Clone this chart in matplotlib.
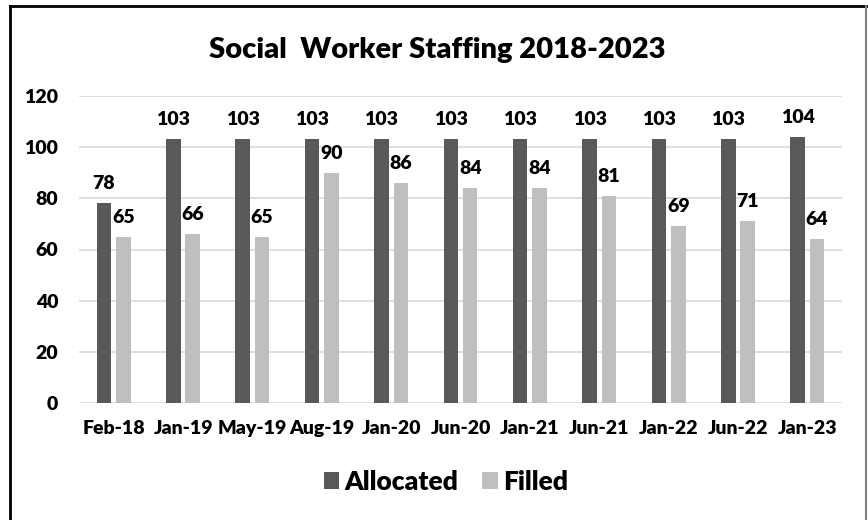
import matplotlib.pyplot as plt
import numpy as np
from matplotlib.lines import Line2D

plt.rcParams['font.family'] = ['Lato', 'DejaVu Sans']
plt.rcParams['font.weight'] = 'heavy'

dates = ["Feb-18", "Jan-19", "May-19", "Aug-19", "Jan-20", "Jun-20",
         "Jan-21", "Jun-21", "Jan-22", "Jun-22", "Jan-23"]
allocated = [78, 103, 103, 103, 103, 103, 103, 103, 103, 103, 104]
filled = [65, 66, 65, 90, 86, 84, 84, 81, 69, 71, 64]

fig = plt.figure(figsize=(8.68, 5.2), dpi=100)
ax = fig.add_axes([79 / 868, 1 - 403 / 520, (842 - 79) / 868, (403 - 96) / 520])

x = np.arange(len(dates))
w = 0.21
b1 = ax.bar(x - 0.14, allocated, w, color="#595959", label="Allocated", zorder=3)
b2 = ax.bar(x + 0.14, filled, w, color="#BFBFBF", label="Filled", zorder=3)
ax.bar_label(b1, padding=8, fontsize=14, fontweight="heavy")
ax.bar_label(b2, padding=8, fontsize=14, fontweight="heavy")

ax.set_xlim(-0.5, len(dates) - 0.5)
ax.set_ylim(0, 120)
ax.set_yticks(range(0, 121, 20))
ax.set_xticks(x)
ax.set_xticklabels(dates)
ax.tick_params(axis="y", length=0, pad=15, labelsize=14)
ax.tick_params(axis="x", length=0, pad=12, labelsize=14)
ax.grid(axis="y", color="#D9D9D9", linewidth=1.2, zorder=0)
for s in ax.spines.values():
    s.set_visible(False)

fig.text(437 / 868, 1 - 50 / 520, "Social  Worker Staffing 2018-2023",
         ha="center", va="center", fontsize=21, fontweight="heavy")

fig.legend(loc="center", bbox_to_anchor=(446 / 868, 1 - 482 / 520), ncol=2,
           frameon=False, fontsize=19, handlelength=0.6, handleheight=0.6,
           handletextpad=0.2, columnspacing=0.9)

# border lines of the frame
fig.add_artist(Line2D([10 / 868, 10 / 868], [0, 1 - 6 / 520], color="black", lw=2))
fig.add_artist(Line2D([10 / 868, 1], [1 - 6 / 520, 1 - 6 / 520], color="black", lw=2))
fig.add_artist(Line2D([866 / 868, 866 / 868], [0, 1 - 6 / 520], color="#808080", lw=1.5))

fig.savefig("out.png", dpi=100)
